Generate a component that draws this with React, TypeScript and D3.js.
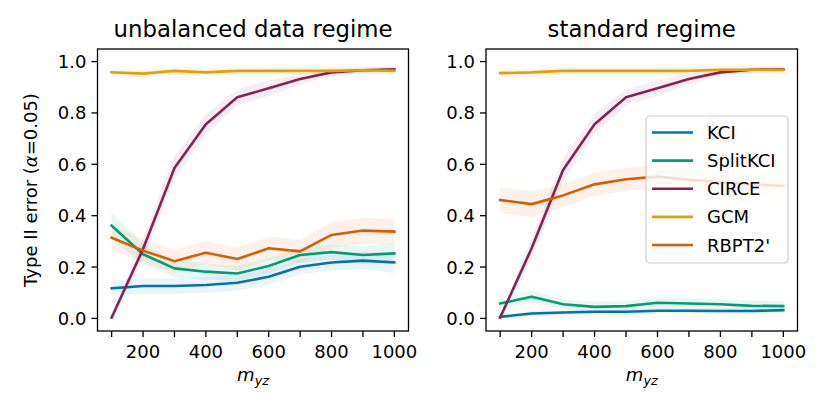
import * as d3 from 'd3';

// m_yz sample sizes
const mValues = [100, 200, 300, 400, 500, 600, 700, 800, 900, 1000];
const xTickLabels = [200, 400, 600, 800, 1000];
const yTicks = [0, 0.2, 0.4, 0.6, 0.8, 1.0];

const seriesNames = ['KCI', 'SplitKCI', 'CIRCE', 'GCM', "RBPT2'"];
const seriesColors = ['#0173b2', '#029e73', '#882255', '#e69f00', '#d55e00'];

// unbalanced data regime
const kciU = [0.117, 0.126, 0.126, 0.130, 0.139, 0.162, 0.201, 0.218, 0.225, 0.218];
const splitU = [0.361, 0.250, 0.195, 0.182, 0.175, 0.204, 0.247, 0.258, 0.247, 0.253];
const circeU = [0.003, 0.270, 0.586, 0.756, 0.861, 0.896, 0.932, 0.958, 0.966, 0.970];
const gcmU = [0.958, 0.953, 0.964, 0.958, 0.964, 0.964, 0.964, 0.964, 0.966, 0.964];
const rbptU = [0.314, 0.264, 0.223, 0.256, 0.231, 0.273, 0.261, 0.325, 0.342, 0.338];

const kciErrU = [0.03, 0.03, 0.03, 0.03, 0.03, 0.03, 0.03, 0.03, 0.035, 0.04];
const splitErrU = [0.05, 0.04, 0.035, 0.03, 0.03, 0.03, 0.03, 0.03, 0.035, 0.04];
const circeErrU = [0.003, 0.04, 0.045, 0.04, 0.03, 0.03, 0.02, 0.015, 0.01, 0.01];
const gcmErrU = [0.015, 0.015, 0.015, 0.015, 0.015, 0.015, 0.015, 0.015, 0.015, 0.015];
const rbptErrU = [0.05, 0.045, 0.045, 0.045, 0.045, 0.045, 0.045, 0.05, 0.05, 0.05];

// standard regime
const kciS = [0.006, 0.019, 0.023, 0.026, 0.026, 0.030, 0.030, 0.029, 0.029, 0.032];
const splitS = [0.058, 0.084, 0.055, 0.045, 0.048, 0.061, 0.058, 0.055, 0.049, 0.048];
const circeS = [0.003, 0.273, 0.578, 0.756, 0.861, 0.896, 0.932, 0.958, 0.968, 0.970];
const gcmS = [0.955, 0.958, 0.964, 0.964, 0.964, 0.964, 0.964, 0.968, 0.968, 0.968];
const rbptS = [0.461, 0.445, 0.479, 0.522, 0.542, 0.552, 0.540, 0.530, 0.522, 0.516];

const kciErrS = [0.005, 0.01, 0.01, 0.01, 0.01, 0.01, 0.01, 0.01, 0.01, 0.01];
const splitErrS = [0.02, 0.025, 0.02, 0.02, 0.02, 0.02, 0.02, 0.02, 0.02, 0.02];
const circeErrS = [0.003, 0.04, 0.045, 0.04, 0.03, 0.03, 0.02, 0.015, 0.01, 0.01];
const gcmErrS = [0.015, 0.015, 0.015, 0.015, 0.015, 0.015, 0.015, 0.015, 0.015, 0.015];
const rbptErrS = [0.05, 0.05, 0.045, 0.045, 0.045, 0.045, 0.045, 0.045, 0.045, 0.045];

const W = 830, H = 415;
const FONT = 'DejaVu Sans, sans-serif';
const FS = 18;

interface Panel {
  title: string;
  left: number;
  right: number;
  values: number[][];
  errs: number[][];
  legend: boolean;
}

const panels: Panel[] = [
  {
    title: 'unbalanced data regime', left: 97.5, right: 408.5,
    values: [kciU, splitU, circeU, gcmU, rbptU],
    errs: [kciErrU, splitErrU, circeErrU, gcmErrU, rbptErrU],
    legend: false,
  },
  {
    title: 'standard regime', left: 486, right: 797.5,
    values: [kciS, splitS, circeS, gcmS, rbptS],
    errs: [kciErrS, splitErrS, circeErrS, gcmErrS, rbptErrS],
    legend: true,
  },
];

const TOP = 49, BOTTOM = 331;

function PanelView({ p }: { p: Panel }) {
  const x = d3.scaleLinear().domain([55, 1045]).range([p.left, p.right]);
  const y = d3.scaleLinear().domain([-0.049, 1.049]).range([BOTTOM, TOP]);
  const line = d3.line<number>().x((_, i) => x(mValues[i])).y(d => y(d));
  const cx = (p.left + p.right) / 2;

  return (
    <g>
      <text x={cx} y={37} textAnchor="middle" fontSize={22.8} fontFamily={FONT}>{p.title}</text>
      {/* bands */}
      {p.values.map((vals, s) => {
        const errs = p.errs[s];
        const area = d3.area<number>()
          .x((_, i) => x(mValues[i]))
          .y0((d, i) => y(d - errs[i]))
          .y1((d, i) => y(d + errs[i]));
        return <path key={'b' + s} d={area(vals) ?? ''} fill={seriesColors[s]} fillOpacity={0.08} stroke="none" />;
      })}
      {p.values.map((vals, s) => (
        <path key={'l' + s} d={line(vals) ?? ''} fill="none" stroke={seriesColors[s]}
          strokeWidth={2.6} strokeLinejoin="round" strokeLinecap="square" />
      ))}
      {/* frame */}
      <rect x={p.left} y={TOP} width={p.right - p.left} height={BOTTOM - TOP}
        fill="none" stroke="#000" strokeWidth={1.3} />
      {/* x ticks */}
      {mValues.map(v => (
        <line key={'xt' + v} x1={x(v)} x2={x(v)} y1={BOTTOM} y2={BOTTOM + 6} stroke="#000" strokeWidth={1.3} />
      ))}
      {xTickLabels.map(v => (
        <text key={'xl' + v} x={x(v)} y={BOTTOM + 27} textAnchor="middle" fontSize={FS} fontFamily={FONT}>{v}</text>
      ))}
      {/* y ticks */}
      {yTicks.map(v => (
        <g key={'yt' + v}>
          <line x1={p.left - 6} x2={p.left} y1={y(v)} y2={y(v)} stroke="#000" strokeWidth={1.3} />
          <text x={p.left - 11} y={y(v) + 6.5} textAnchor="end" fontSize={FS} fontFamily={FONT}>{v.toFixed(1)}</text>
        </g>
      ))}
      {/* x label */}
      <text x={cx} y={381} textAnchor="middle" fontSize={FS} fontFamily={FONT}>
        <tspan fontStyle="italic">m</tspan>
        <tspan fontStyle="italic" fontSize={12.8} dy={4}>yz</tspan>
      </text>
      {p.legend && <Legend />}
    </g>
  );
}

function Legend() {
  const x0 = 646, y0 = 116, w = 142, h = 147;
  const rowY = d3.scaleLinear().domain([0, seriesNames.length - 1]).range([132.5, 245]);
  return (
    <g>
      <rect x={x0} y={y0} width={w} height={h} rx={4} fill="#fff" fillOpacity={0.8}
        stroke="#cccccc" strokeWidth={1.2} />
      {seriesNames.map((name, i) => (
        <g key={name}>
          <line x1={652} x2={693} y1={rowY(i)} y2={rowY(i)} stroke={seriesColors[i]} strokeWidth={2.6} />
          <text x={707} y={rowY(i) + 6.5} fontSize={FS} fontFamily={FONT}>{name}</text>
        </g>
      ))}
    </g>
  );
}

export default function App() {
  return (
    <svg width={W} height={H} style={{ display: 'block', position: 'absolute', left: 0, top: 0, background: '#fff' }}>
      <rect width={W} height={H} fill="#fff" />
      {panels.map(p => <PanelView key={p.title} p={p} />)}
      <text transform="translate(37,190) rotate(-90)" textAnchor="middle" fontSize={FS} fontFamily={FONT}>
        Type II error (<tspan fontStyle="italic">α</tspan>=0.05)
      </text>
    </svg>
  );
}
